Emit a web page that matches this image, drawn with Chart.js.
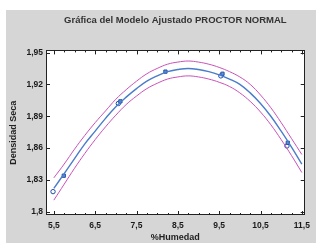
<!DOCTYPE html>
<html>
<head>
<meta charset="utf-8">
<script src="https://cdn.jsdelivr.net/npm/chart.js@4"></script>
<style>
    body { margin: 0; background: #fff; }
    #box { position: absolute; left: 6px; top: 10px; width: 310px; height: 233px; background: #d6d6d6; }
</style>
</head>
<body>
<div id="box"><canvas id="chart" width="310" height="233"></canvas></div>
<script>
// curve
const fitX = [5.5, 5.75, 6.0, 6.25, 6.5, 6.75, 7.0, 7.25, 7.5, 7.75, 8.0, 8.25, 8.5, 8.75, 9.0, 9.25, 9.5, 9.75, 10.0, 10.25, 10.5, 10.75, 11.0, 11.25, 11.5];
const fitY = [1.822, 1.836, 1.850, 1.864, 1.876, 1.888, 1.899, 1.908, 1.916, 1.923, 1.928, 1.932, 1.934, 1.935, 1.934, 1.932, 1.929, 1.925, 1.920, 1.912, 1.902, 1.890, 1.876, 1.861, 1.845];
const upperY = [1.832, 1.845, 1.859, 1.872, 1.884, 1.895, 1.906, 1.915, 1.923, 1.930, 1.935, 1.939, 1.941, 1.942, 1.941, 1.939, 1.936, 1.932, 1.927, 1.920, 1.910, 1.898, 1.884, 1.869, 1.854];
const lowerY = [1.811, 1.826, 1.841, 1.855, 1.868, 1.880, 1.891, 1.901, 1.909, 1.916, 1.921, 1.925, 1.927, 1.928, 1.927, 1.925, 1.922, 1.918, 1.912, 1.904, 1.894, 1.882, 1.868, 1.853, 1.837];

// observed points
const squareX = [5.74, 7.11, 8.20, 9.58, 11.16];
const squareY = [1.834, 1.904, 1.932, 1.930, 1.865];
const circleX = [5.48, 7.06, 9.54, 11.14];
const circleY = [1.819, 1.902, 1.928, 1.862];

const xMajor = [5.5, 6.5, 7.5, 8.5, 9.5, 10.5, 11.5];
const yMajor = [1.8, 1.83, 1.86, 1.89, 1.92, 1.95];

const pts = (xs, ys) => xs.map((x, i) => ({ x: x, y: ys[i] }));
const comma = v => String(+v.toFixed(2)).replace('.', ',');

const frame = {
    id: 'frame',
    beforeDatasetsDraw: function (chart) {
        const a = chart.chartArea;
        const ctx = chart.ctx;
        ctx.save();
        ctx.fillStyle = '#ffffff';
        ctx.fillRect(a.left, a.top, a.right - a.left, a.bottom - a.top);
        ctx.restore();
    },
    afterDraw: function (chart) {
        const a = chart.chartArea;
        const ctx = chart.ctx;
        const xs = chart.scales.x;
        const ys = chart.scales.y;
        ctx.save();
        ctx.strokeStyle = '#222';
        ctx.lineWidth = 1;
        ctx.strokeRect(Math.round(a.left) + 0.5, Math.round(a.top) + 0.5, Math.round(a.right - a.left) - 1, Math.round(a.bottom - a.top) - 1);
        ctx.beginPath();
        for (let v = 5.5; v <= 11.51; v += 0.25) {
            const px = Math.round(xs.getPixelForValue(v)) + 0.5;
            const len = xMajor.some(m => Math.abs(m - v) < 0.01) ? 4 : 2;
            ctx.moveTo(px, a.bottom); ctx.lineTo(px, a.bottom - len);
            ctx.moveTo(px, a.top); ctx.lineTo(px, a.top + len);
        }
        yMajor.forEach(function (v) {
            const py = Math.round(ys.getPixelForValue(v)) + 0.5;
            ctx.moveTo(a.left, py); ctx.lineTo(a.left + 4, py);
            ctx.moveTo(a.right, py); ctx.lineTo(a.right - 4, py);
        });
        ctx.stroke();
        ctx.restore();
    }
};

const tickFont = { family: 'Arial, "Liberation Sans", sans-serif', size: 8.5, weight: 'bold' };

new Chart(document.getElementById('chart'), {
    type: 'scatter',
    data: {
        datasets: [
            {
                type: 'line', data: pts(fitX, upperY), borderColor: '#c952b9', borderWidth: 1,
                pointRadius: 0, tension: 0.4, fill: false
            },
            {
                type: 'line', data: pts(fitX, lowerY), borderColor: '#c952b9', borderWidth: 1,
                pointRadius: 0, tension: 0.4, fill: false
            },
            {
                type: 'line', data: pts(fitX, fitY), borderColor: '#4a7cca', borderWidth: 1.4,
                pointRadius: 0, tension: 0.4, fill: false
            },
            {
                data: pts(squareX, squareY), pointStyle: 'rect', pointRadius: 2.3,
                borderColor: '#1f4fa8', backgroundColor: '#6a92d2', borderWidth: 1
            },
            {
                data: pts(circleX, circleY), pointStyle: 'circle', pointRadius: 2.2,
                borderColor: '#1f4fa8', backgroundColor: '#ffffff', borderWidth: 1
            }
        ]
    },
    options: {
        responsive: false,
        animation: false,
        layout: { padding: { top: 0, right: 6, left: 0, bottom: 0 } },
        plugins: {
            legend: { display: false },
            tooltip: { enabled: false },
            title: {
                display: true,
                fullSize: false,
                text: 'Gráfica del Modelo Ajustado PROCTOR NORMAL',
                color: '#333',
                font: { family: 'Arial, "Liberation Sans", sans-serif', size: 9.5, weight: 'bold' },
                padding: { top: 5, bottom: 24 }
            }
        },
        scales: {
            x: {
                type: 'linear', min: 5.31, max: 11.57,
                afterBuildTicks: function (scale) { scale.ticks = xMajor.map(v => ({ value: v })); },
                afterFit: function (scale) { scale.height = 28; },
                grid: { display: false, drawTicks: false },
                border: { display: false },
                ticks: { color: '#1a1a1a', font: tickFont, padding: 6, maxRotation: 0, autoSkip: false, callback: comma },
                title: {
                    display: true, text: '%Humedad', color: '#222',
                    font: { family: 'Arial, "Liberation Sans", sans-serif', size: 9, weight: 'bold' },
                    padding: { top: 0, bottom: 0 }
                }
            },
            y: {
                min: 1.797, max: 1.952,
                afterBuildTicks: function (scale) { scale.ticks = yMajor.map(v => ({ value: v })); },
                afterFit: function (scale) { scale.width = 40; },
                grid: { display: false, drawTicks: false },
                border: { display: false },
                ticks: { color: '#1a1a1a', font: tickFont, padding: 3, autoSkip: false, callback: comma },
                title: {
                    display: true, text: 'Densidad Seca', color: '#222',
                    font: { family: 'Arial, "Liberation Sans", sans-serif', size: 9, weight: 'bold' },
                    padding: { top: 2, bottom: 0 }
                }
            }
        }
    },
    plugins: [frame]
});
</script>
</body>
</html>
